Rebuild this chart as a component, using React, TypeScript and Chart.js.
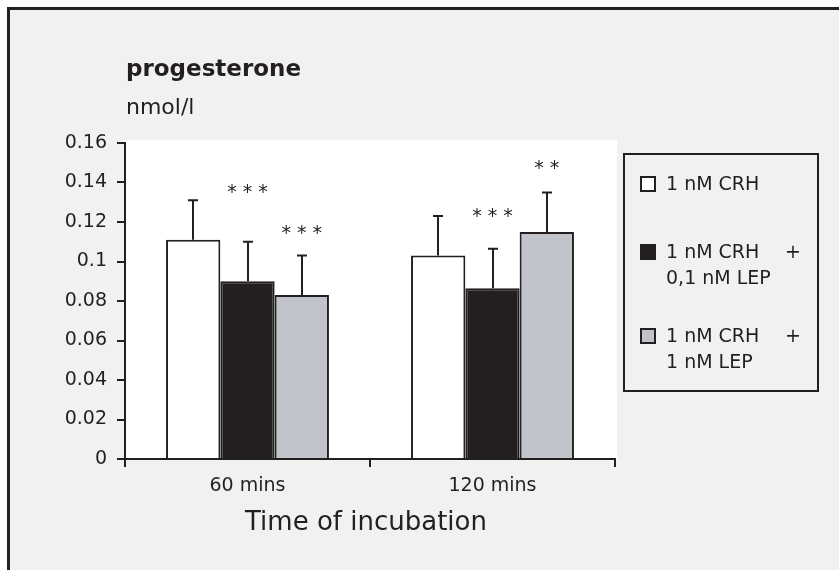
import React, { useEffect, useRef } from "react";
import { Chart, registerables } from "chart.js";

Chart.register(...registerables);

const categories = ["60 mins", "120 mins"];
const seriesLabels = ["1 nM CRH", "1 nM CRH + 0,1 nM LEP", "1 nM CRH + 1 nM LEP"];
const legendLines = [["1 nM CRH"], ["1 nM CRH", "0,1 nM LEP"], ["1 nM CRH", "1 nM LEP"]];
const crhValues = [0.111, 0.103];
const lep01Values = [0.090, 0.0865];
const lep1Values = [0.083, 0.115];
const crhErrors = [0.020, 0.020];
const lep01Errors = [0.020, 0.020];
const lep1Errors = [0.020, 0.020];
const crhStars = ["", ""];
const lep01Stars = ["* * *", "* * *"];
const lep1Stars = ["* * *", "* *"];
const crhStarLevel = [null, null];
const lep01StarLevel = [0.1377, 0.1256];
const lep1StarLevel = [0.117, 0.150];
const yTickLabels = ["0", "0.02", "0.04", "0.06", "0.08", "0.1", "0.12", "0.14", "0.16"];
const chartTitle = "progesterone";
const unitLabel = "nmol/l";
const xAxisTitle = "Time of incubation";

const DARK = "#231f20";
const GRAY = "#c0c3ca";
const BG = "#f1f1f1";
const FONT = "'DejaVu Sans', sans-serif";

const errors = [crhErrors, lep01Errors, lep1Errors];
const stars = [crhStars, lep01Stars, lep1Stars];
const starLevels = [crhStarLevel, lep01StarLevel, lep1StarLevel];

const decorPlugin = {
  id: "decor",
  beforeDraw(chart: any) {
    const ctx = chart.ctx;
    const { left, right, top, bottom } = chart.chartArea;
    ctx.save();
    ctx.fillStyle = "#ffffff";
    ctx.fillRect(0, 0, chart.width, chart.height);
    ctx.fillStyle = BG;
    ctx.fillRect(10, 10, chart.width - 10, chart.height - 10);
    ctx.fillStyle = "#222222";
    ctx.fillRect(7, 7, chart.width - 7, 3);
    ctx.fillRect(7, 7, 3, chart.height - 7);
    ctx.fillStyle = "#ffffff";
    ctx.fillRect(left, top - 3, right - left + 2, bottom - top + 3);
    ctx.restore();
  },
  afterDatasetsDraw(chart: any) {
    const ctx = chart.ctx;
    const yScale = chart.scales.y;
    ctx.save();
    ctx.strokeStyle = DARK;
    ctx.lineWidth = 2;
    chart.data.datasets.forEach((ds: any, i: number) => {
      const meta = chart.getDatasetMeta(i);
      meta.data.forEach((bar: any, j: number) => {
        const v = ds.data[j];
        const yTop = yScale.getPixelForValue(v + errors[i][j]);
        const x = Math.round(bar.x);
        ctx.beginPath();
        ctx.moveTo(x, bar.y);
        ctx.lineTo(x, yTop);
        ctx.moveTo(x - 5, yTop);
        ctx.lineTo(x + 5, yTop);
        ctx.stroke();
        const s = stars[i][j];
        const lvl = starLevels[i][j];
        if (s && lvl != null) {
          const yc = yScale.getPixelForValue(lvl);
          ctx.fillStyle = DARK;
          ctx.font = `19px ${FONT}`;
          ctx.textAlign = "center";
          ctx.textBaseline = "alphabetic";
          ctx.fillText(s, bar.x, yc + 11);
        }
      });
    });
    ctx.restore();
  },
  afterDraw(chart: any) {
    const ctx = chart.ctx;
    const { left, right } = chart.chartArea;
    ctx.save();
    ctx.fillStyle = DARK;
    ctx.textBaseline = "alphabetic";
    ctx.textAlign = "left";
    ctx.font = `bold 23px ${FONT}`;
    ctx.fillText(chartTitle, 126, 76);
    ctx.font = `22px ${FONT}`;
    ctx.fillText(unitLabel, 126, 114);
    ctx.font = `26px ${FONT}`;
    ctx.textAlign = "center";
    ctx.fillText(xAxisTitle, (left + right) / 2 - 4, 530);

    // legend
    ctx.strokeStyle = DARK;
    ctx.lineWidth = 2;
    ctx.strokeRect(624, 154, 194, 237);
    const baselines = [190, 258, 342];
    ctx.font = `19px ${FONT}`;
    chart.data.datasets.forEach((ds: any, i: number) => {
      const b = baselines[i];
      ctx.fillStyle = ds.backgroundColor;
      ctx.fillRect(641, b - 13, 14, 14);
      ctx.strokeStyle = DARK;
      ctx.strokeRect(641, b - 13, 14, 14);
      ctx.fillStyle = DARK;
      ctx.textAlign = "left";
      legendLines[i].forEach((line, k) => {
        ctx.fillText(line, 666, b + k * 26);
      });
      if (legendLines[i].length > 1) {
        ctx.textAlign = "center";
        ctx.fillText("+", 793, b);
      }
    });
    ctx.restore();
  },
};

export default function App() {
  const ref = useRef<HTMLCanvasElement | null>(null);
  useEffect(() => {
    if (!ref.current) return;
    const chart = new Chart(ref.current, {
      type: "bar",
      data: {
        labels: categories,
        datasets: [
          { label: seriesLabels[0], data: crhValues, backgroundColor: "#ffffff", borderColor: DARK, borderWidth: 2 },
          { label: seriesLabels[1], data: lep01Values, backgroundColor: DARK, borderColor: DARK, borderWidth: 2 },
          { label: seriesLabels[2], data: lep1Values, backgroundColor: GRAY, borderColor: DARK, borderWidth: 2 },
        ],
      },
      options: {
        responsive: false,
        animation: false,
        devicePixelRatio: 1,
        layout: { padding: { left: 0, top: 143, right: 224, bottom: 0 } },
        datasets: { bar: { categoryPercentage: 0.665, barPercentage: 1 } },
        plugins: { legend: { display: false }, tooltip: { enabled: false }, title: { display: false } },
        scales: {
          x: {
            afterFit: (s: any) => { s.height = 111; },
            grid: { offset: true, drawOnChartArea: false, drawTicks: true, tickLength: 8, color: DARK, lineWidth: 2 },
            border: { display: true, color: DARK, width: 2 },
            ticks: { color: DARK, font: { family: FONT, size: 19 }, padding: 8 },
          },
          y: {
            min: 0,
            max: 0.16,
            afterFit: (s: any) => { s.width = 125; },
            grid: { drawOnChartArea: false, drawTicks: true, tickLength: 8, color: DARK, lineWidth: 2 },
            border: { display: true, color: DARK, width: 2 },
            ticks: {
              stepSize: 0.02,
              color: DARK,
              padding: 10,
              font: { family: FONT, size: 19 },
              callback: (_v: any, i: number) => yTickLabels[i],
            },
          },
        },
      },
      plugins: [decorPlugin],
    });
    return () => chart.destroy();
  }, []);
  return (
    <div style={{ position: "fixed", left: 0, top: 0, width: 839, height: 570 }}>
      <canvas ref={ref} width={839} height={570} style={{ width: 839, height: 570 }} />
    </div>
  );
}
